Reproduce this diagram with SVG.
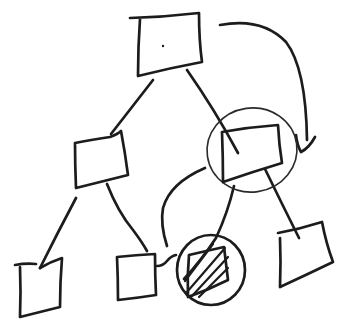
<svg xmlns="http://www.w3.org/2000/svg" width="352" height="334" viewBox="0 0 352 334">
<style>
.s{fill:none;stroke:#1c1c1c;stroke-width:2.7;stroke-linecap:round;stroke-linejoin:round}
.t{fill:none;stroke:#2a2a2a;stroke-width:1.6;stroke-linecap:round}
.h{fill:none;stroke:#1c1c1c;stroke-width:2.2;stroke-linecap:round}
</style>
<rect width="352" height="334" fill="#ffffff"/>
<g id="connectors">
<path class="s" d="M153,80 Q132,107 111,134"/>
<path class="s" d="M187,70 Q215,110 238,153"/>
<path class="s" d="M76,198 Q58,232 40,268"/>
<path class="s" d="M107,184 Q118,212 133,230 Q142,242 147,251"/>
<path class="s" d="M157,266 Q163,266 167,261 Q171,256 176,255"/>
<path class="s" d="M167,246 Q160,224 163,208 Q170,183 205,168"/>
<path class="s" d="M234,186 Q228,212 216,238 Q200,262 184,279"/>
<path class="s" d="M265,169 Q282,204 299,238"/>
<path class="s" d="M220,25 Q262,17 286,42 Q306,68 307,140"/>
<path class="s" d="M296,135 Q297,145 301,152 Q309,148 315,137"/>
</g>
<g id="n-root">
<path class="s" d="M130,18 Q165,17 199,13 Q199,40 202,62 Q170,68 138,76 Q138,47 140,19"/>
<circle cx="163" cy="46" r="1.2" fill="#1c1c1c"/>
</g>
<g id="n-left">
<path class="s" d="M75,143 Q90,140 110,137 Q118,134 121,131 Q125,152 128,175 Q100,182 76,188 Q75,165 75,143"/>
</g>
<g id="n-right">
<ellipse class="t" cx="252" cy="150" rx="45" ry="42" transform="rotate(-8 252 150)"/>
<path class="s" d="M222,132 Q250,127 278,125 Q279,145 282,163 Q252,172 223,182 Q223,157 222,132"/>
</g>
<g id="n-b1">
<path class="s" d="M15,265 Q26,263 36,264"/>
<path class="s" d="M20,267 Q21,292 20,317 Q40,312 60,307 Q60,282 62,258 Q50,262 40,268"/>
</g>
<g id="n-b2">
<path class="s" d="M117,257 Q136,255 155,254 Q155,275 156,295 Q137,298 118,300 Q118,278 117,257"/>
</g>
<g id="n-b3">
<ellipse class="s" cx="211" cy="270" rx="34" ry="35"/>
<path class="s" d="M189,255 Q206,251 224,247 Q226,263 228,280 Q208,290 188,297 Q187,276 189,255"/>
<path class="h" d="M185,281 L213,244"/>
<path class="h" d="M187,292 L225,248"/>
<path class="h" d="M192,296 L228,257"/>
<path class="h" d="M199,297 L228,268"/>
</g>
<g id="n-b4">
<path class="s" d="M278,233 Q300,229 322,222 Q326,243 333,262 Q306,275 280,287 Q281,262 280,238"/>
</g>
</svg>
